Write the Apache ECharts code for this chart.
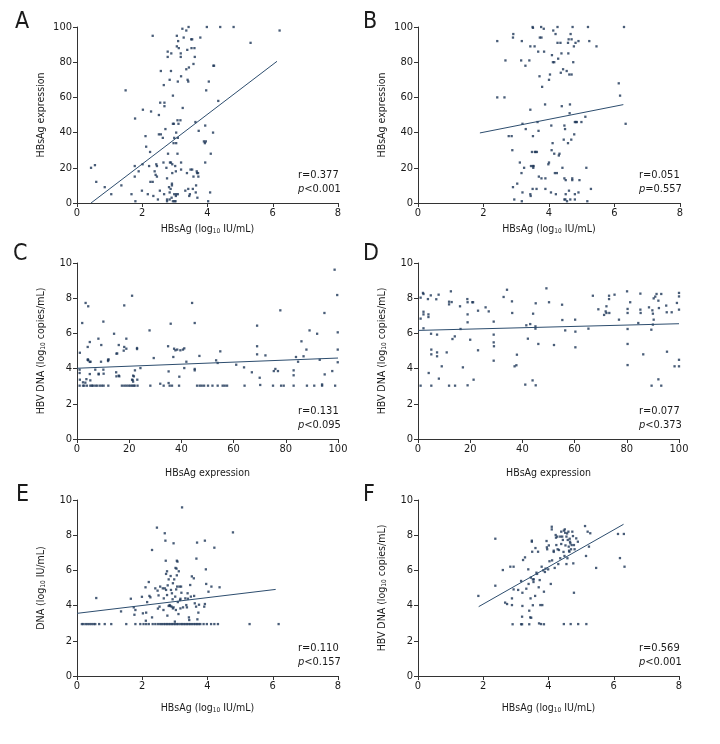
<!DOCTYPE html>
<html><head><meta charset="utf-8">
<script src="https://cdn.jsdelivr.net/npm/echarts@6/dist/echarts.min.js"></script>
<style>html,body{margin:0;padding:0;background:#fff}#c{width:720px;height:744px}</style>
</head><body><div id="c"></div>
<script>
// ---------- data ----------
const panelLabels = ['A', 'B', 'C', 'D', 'E', 'F'];
const statR = ['r=0.377', 'r=0.051', 'r=0.131', 'r=0.077', 'r=0.110', 'r=0.569'];
const statP = ['<0.001', '=0.557', '<0.095', '<0.373', '<0.157', '<0.001'];

// A: HBsAg (log10 IU/mL) vs HBsAg expression
const ptsA = [[0.43,20],[0.55,21.5],[0.59,12],[0.85,9],[1.05,5],[1.36,10],[1.49,64],[1.67,5],[1.77,15],[1.77,21],[1.78,48],[1.79,1],[1.89,18],[1.99,7],[2.01,22],[2.02,53],[2.1,38],[2.12,32],[2.17,5],[2.21,21],[2.24,29],[2.25,12],[2.27,52],[2.32,95],[2.32,12],[2.34,4],[2.38,18],[2.41,16],[2.43,22],[2.45,21],[2.45,15],[2.48,2],[2.51,50],[2.51,39],[2.54,7],[2.55,57],[2.57,75],[2.57,39],[2.63,37],[2.65,23],[2.66,67],[2.67,5],[2.68,57],[2.68,55],[2.71,42],[2.74,20],[2.76,14],[2.76,2],[2.76,1],[2.78,86],[2.78,83],[2.79,28],[2.82,9],[2.84,70],[2.84,6],[2.84,2],[2.85,23],[2.87,8],[2.88,23],[2.88,75],[2.89,85],[2.9,3],[2.91,11],[2.91,10],[2.92,17],[2.92,22],[2.94,61],[2.94,45],[2.94,1],[2.96,34],[2.97,45],[2.98,37],[2.98,5],[2.99,1],[3.01,21],[3.02,1],[3.03,18],[3.03,4],[3.04,34],[3.04,40],[3.04,5],[3.06,89],[3.06,95],[3.08,28],[3.08,47],[3.09,37],[3.09,5],[3.09,69],[3.1,92],[3.11,45],[3.12,88],[3.17,47],[3.18,83],[3.18,85],[3.19,72],[3.19,23],[3.19,19],[3.23,99],[3.24,54],[3.27,94],[3.32,7],[3.35,98],[3.35,76],[3.37,17],[3.38,87],[3.39,70],[3.41,69],[3.41,8],[3.42,100],[3.43,77],[3.44,4],[3.46,5],[3.48,19],[3.5,93],[3.51,88],[3.53,19],[3.53,93],[3.55,8],[3.57,79],[3.57,15],[3.6,88],[3.61,83],[3.63,46],[3.64,6],[3.65,10],[3.67,18],[3.68,17],[3.71,17],[3.72,15],[3.69,3],[3.73,41],[3.78,94],[3.89,35],[3.92,34],[3.95,35],[3.93,44],[3.93,23],[3.96,64],[3.98,100],[4.02,1],[4.04,69],[4.08,6],[4.1,28],[4.17,40],[4.18,78],[4.2,78],[4.33,58],[4.39,100],[4.8,100],[5.32,91],[6.21,98]];
const fitA = [[0.43,0],[6.13,80.5]];

// B
const ptsB = [[2.42,92],[2.42,60],[2.64,60],[2.67,81],[2.77,38],[2.86,38],[2.88,30],[2.9,9],[2.9,94],[2.91,96],[2.94,2],[3.03,11],[3.11,23],[3.15,81],[3.16,17],[3.17,92],[3.17,1],[3.19,6],[3.19,45],[3.24,20],[3.28,78],[3.29,42],[3.4,81],[3.43,5],[3.43,89],[3.44,4],[3.45,21],[3.43,53],[3.48,29],[3.5,8],[3.51,21],[3.51,38],[3.52,20],[3.53,21],[3.56,89],[3.57,29],[3.5,100],[3.51,99.5],[3.59,29],[3.63,29],[3.62,8],[3.65,46],[3.67,86],[3.68,41],[3.69,15],[3.71,72],[3.72,94],[3.76,100],[3.77,94],[3.77,14],[3.79,66],[3.84,99],[3.85,86],[3.88,56],[3.89,14],[3.89,8],[3.98,22],[4.0,23],[4.0,70],[4.03,73],[4.06,6],[4.07,44],[4.08,30],[4.09,84],[4.11,34],[4.12,80],[4.13,98],[4.16,80],[4.16,28],[4.18,17],[4.2,96],[4.21,5],[4.24,17],[4.26,100],[4.26,91],[4.28,82],[4.3,27],[4.32,28],[4.35,91],[4.36,74],[4.38,85],[4.39,55],[4.41,20],[4.43,76],[4.45,36],[4.47,2],[4.47,14],[4.47,44],[4.49,42],[4.5,2],[4.51,13],[4.51,5],[4.54,75],[4.55,1],[4.58,34],[4.58,91],[4.59,85],[4.6,93],[4.61,7],[4.62,73],[4.63,51],[4.64,56],[4.65,2],[4.66,96],[4.68,36],[4.69,93],[4.69,73],[4.71,14],[4.71,13],[4.72,100],[4.74,80],[4.76,89],[4.77,39],[4.79,5],[4.79,2],[4.79,46],[4.81,91],[4.82,46],[4.85,46],[4.9,6],[4.9,92],[4.93,13],[4.99,46],[5.11,49],[5.14,20],[5.17,1],[5.19,100],[5.23,92],[5.28,8],[5.45,89],[6.13,68],[6.17,61],[6.29,100],[6.34,45]];
const fitB = [[1.89,39.8],[6.27,55.9]];

// C: HBsAg expression vs HBV DNA
const ptsC = [[1.1,4.9],[1,3.94],[1,3.75],[1.1,3.37],[1,3.03],[2,6.59],[2.3,3.22],[2.3,3.03],[2.8,3.03],[3.3,7.73],[3.2,3.2],[3.6,3.4],[3.8,3.03],[4.1,5.23],[4.3,7.54],[4.1,4.5],[4.3,4.47],[4.2,4.52],[4.9,5.51],[4.9,4.38],[4.9,3.69],[5.1,3.33],[5.1,3.03],[5.2,4.39],[5.7,3.03],[6.1,3.03],[7,3.94],[7,3.03],[7.7,3.03],[8.2,5.7],[8.3,3.67],[8.3,3.71],[8.7,3.03],[9.2,4.39],[9.3,5.34],[9.5,3.03],[10.1,6.67],[10.1,3.94],[10.2,3.71],[10.2,3.03],[11.9,4.5],[11.9,4.43],[12.1,4.52],[12,3.03],[14.2,5.98],[15,3.79],[15.1,4.85],[15.4,4.86],[15.1,3.56],[16,3.6],[16.2,3.56],[16,5.34],[17.2,3.03],[17.9,5.02],[18.1,7.59],[18.1,5.23],[18.1,3.03],[18.9,5.7],[18.9,5.13],[18.9,3.03],[19.7,3.03],[20.4,3.03],[21.1,8.14],[21.1,3.37],[21.3,3.35],[21.1,3.03],[21.5,3.6],[21.8,3.56],[21.5,3.26],[21.7,3.03],[22.1,3.03],[22.2,3.9],[23,5.17],[23,5.11],[23.1,3.37],[23.2,3.03],[24.3,4.03],[27.8,6.17],[28.1,3.03],[29.4,4.6],[31.9,3.14],[33.2,3.03],[34.9,5.27],[35.1,3.84],[35.1,3.18],[35.5,3.03],[35.9,6.55],[36.4,3.03],[36.9,4.66],[37.2,5.13],[37.7,5.04],[38.4,5.08],[39.1,3.03],[39.2,3.54],[39.6,5.04],[40.6,5.08],[41.1,5.15],[41.1,4.03],[41.9,4.39],[44.1,7.73],[45.1,6.59],[45.1,3.98],[45.1,3.9],[46,3.03],[46.9,4.72],[47,3.03],[47.8,3.03],[48.7,3.03],[50.2,3.03],[51.9,3.03],[53.3,4.47],[53.9,4.32],[53.9,3.03],[54.9,4.98],[55.8,3.03],[56.6,3.03],[57.5,3.03],[61,4.22],[64,4.07],[64.2,3.03],[67,3.79],[69,6.44],[69,5.27],[69,4.81],[70,3.48],[70.2,3.07],[72.2,4.75],[75.1,3.03],[75.4,3.86],[76,3.98],[77,3.86],[77.9,7.31],[78.2,3.03],[79.2,3.03],[83,3.03],[83,3.9],[83,3.62],[83.9,4.66],[84.7,4.39],[86,5.55],[86.8,4.7],[87.9,5.08],[88.1,3.03],[89.1,6.17],[90.9,3.03],[92,5.98],[93,4.5],[93.9,3.03],[93.9,3.1],[94.8,7.16],[94.9,3.67],[97.8,3.86],[98.9,3.03],[98.7,9.62],[99.7,8.18],[99.9,6.06],[99.9,5.08],[99.9,4.36]];
const fitC = [[0,4.02],[100,4.6]];

// D
const ptsD = [[1,8.03],[1,6.84],[1,3.03],[1.9,8.3],[2.1,8.24],[2.1,7.23],[2.1,7.08],[2.1,6.29],[3.8,7.95],[4,7.08],[4,6.93],[4.1,3.75],[4.9,8.16],[5,5.98],[5.1,5.08],[5.1,4.81],[5.1,3.03],[7,7.94],[7.3,5.93],[7.3,4.92],[7.3,4.7],[7.9,8.2],[8,3.43],[9.1,4.13],[11,4.92],[11.9,7.65],[11.9,7.8],[11.9,3.03],[12.6,8.39],[12.9,7.78],[13.2,5.68],[14.1,5.83],[14.2,3.03],[16.1,7.54],[16.3,6.25],[17.2,4.07],[18.9,7.95],[19,7.77],[19,7.08],[19,6.63],[19,3.05],[20,5.64],[20.8,7.77],[21.1,7.77],[21.3,3.37],[23,7.29],[23,5.04],[25.9,7.48],[27.1,7.25],[29,6.67],[29,5.93],[29,5.49],[29.1,5.27],[29,4.45],[32.8,8.07],[34.1,8.48],[36,7.82],[36.1,7.16],[37,4.13],[37.7,4.19],[37.9,4.79],[41.1,3.09],[41.5,6.46],[42.1,5.7],[43,6.53],[43.9,3.33],[44.1,7.12],[45,6.4],[45,6.27],[45.1,7.71],[45.1,3.05],[46.1,5.4],[49.2,8.56],[50.2,7.77],[52.1,5.34],[55.2,7.63],[55.3,6.76],[56.4,6.17],[60.2,6.78],[60.3,6.1],[60.3,5.21],[65.3,6.27],[67,8.14],[69.1,7.37],[71.3,7.05],[71.9,7.25],[72.2,7.54],[72.2,7.16],[73.2,7.95],[73.2,8.14],[73.3,7.16],[75.3,8.2],[77,6.78],[80.1,8.39],[80.3,7.39],[80.3,7.16],[80.3,6.25],[80.3,5.4],[80.3,4.2],[81.3,7.77],[84.4,6.59],[85.2,8.26],[85.2,7.35],[85.3,7.16],[86.3,4.81],[88.5,7.48],[89.4,6.21],[89.5,3.03],[89.8,7.31],[90,7.12],[90,6.5],[90.3,6.78],[90.3,7.99],[90.9,8.09],[91.4,8.24],[92.1,7.86],[92.1,3.39],[92.3,7.44],[93.2,3.03],[93.2,8.24],[95.1,7.58],[95.3,7.2],[95.4,4.96],[97.2,7.2],[98.3,4.13],[99.2,7.73],[100,8.3],[100,8.1],[100,7.35],[100,4.5],[100,4.13]];
const fitD = [[0,6.17],[100,6.55]];

// E: HBsAg (log10 IU/mL) vs DNA (log10 IU/mL)
const ptsE = [[0.15,2.95],[0.2,2.95],[0.27,2.95],[0.33,2.95],[0.39,2.95],[0.45,2.95],[0.51,2.95],[0.56,2.95],[0.68,2.95],[0.85,2.95],[1.05,2.95],[1.51,2.95],[1.79,2.95],[1.94,2.95],[2.04,2.95],[2.12,2.95],[2.2,2.95],[2.32,2.95],[2.4,2.95],[2.48,2.95],[2.55,2.95],[2.6,2.95],[2.66,2.95],[2.71,2.95],[2.76,2.95],[2.81,2.95],[2.86,2.95],[2.91,2.95],[2.96,2.95],[3.01,2.95],[3.06,2.95],[3.11,2.95],[3.17,2.95],[3.22,2.95],[3.27,2.95],[3.32,2.95],[3.37,2.95],[3.42,2.95],[3.47,2.95],[3.52,2.95],[3.58,2.95],[3.63,2.95],[3.68,2.95],[3.73,2.95],[3.78,2.95],[3.88,2.95],[3.98,2.95],[4.11,2.95],[4.21,2.95],[4.32,2.95],[5.29,2.95],[6.18,2.95],[0.59,4.43],[1.35,3.67],[1.65,4.39],[1.74,3.9],[1.76,3.48],[1.79,3.75],[1.99,4.5],[2.02,3.56],[2.1,5.04],[2.12,3.6],[2.11,3.14],[2.15,4.2],[2.2,5.34],[2.22,4.55],[2.25,4.47],[2.3,7.16],[2.3,3.33],[2.4,4.98],[2.45,8.43],[2.47,4.85],[2.48,3.83],[2.5,4.58],[2.53,3.94],[2.55,5.08],[2.63,4.98],[2.65,3.75],[2.66,4.41],[2.69,4.98],[2.69,8.11],[2.71,7.69],[2.72,6.55],[2.73,5.8],[2.73,4.89],[2.76,4.6],[2.76,5.95],[2.77,3.43],[2.78,5.15],[2.81,5.49],[2.81,3.98],[2.84,4.03],[2.86,3.98],[2.87,5.68],[2.88,4.89],[2.9,3.94],[2.91,4.7],[2.93,4.36],[2.94,5.27],[2.94,3.84],[2.96,7.54],[2.96,3.9],[2.98,5.49],[3,3.09],[3.01,4.51],[3.02,6.14],[3.03,3.75],[3.04,4.92],[3.05,6.1],[3.06,5.72],[3.06,6.55],[3.07,5.08],[3.08,6.5],[3.09,4.2],[3.11,3.52],[3.12,5.95],[3.14,5.08],[3.16,4.32],[3.17,3.84],[3.19,5.08],[3.2,4.73],[3.17,4.39],[3.22,9.58],[3.25,3.9],[3.32,4.41],[3.35,4.03],[3.37,3.9],[3.39,4.7],[3.4,4.39],[3.43,3.33],[3.44,3.18],[3.47,5.17],[3.49,4.51],[3.52,5.66],[3.58,5.55],[3.59,4.55],[3.61,4.13],[3.65,3.94],[3.66,6.67],[3.68,7.58],[3.69,3.22],[3.72,3.6],[3.74,4.05],[3.9,3.94],[3.92,4.09],[3.92,7.69],[3.95,6.06],[3.96,5.23],[4.03,4.79],[4.12,5.08],[4.21,7.29],[4.37,5.04],[4.78,8.16]];
const fitE = [[0,3.56],[6.09,4.92]];

// F: HBsAg (log10 IU/mL) vs HBV DNA
const ptsF = [[1.85,4.55],[2.37,5.13],[2.37,7.8],[2.6,6.02],[2.67,4.17],[2.73,4.09],[2.83,6.21],[2.88,4.03],[2.88,4.41],[2.9,2.94],[2.93,6.21],[2.93,4.92],[3.07,4.89],[3.16,2.94],[3.19,2.94],[3.19,3.37],[3.2,3.98],[3.16,5.4],[3.2,4.73],[3.22,6.59],[3.28,6.74],[3.32,4.96],[3.38,6.06],[3.39,5.23],[3.41,3.71],[3.41,2.94],[3.44,3.33],[3.45,4.41],[3.46,5.59],[3.47,3.31],[3.49,7.69],[3.49,7.63],[3.5,7.06],[3.52,4.02],[3.52,5.49],[3.54,5.34],[3.55,5.49],[3.59,4.55],[3.6,7.27],[3.63,5.87],[3.65,5.8],[3.68,7.06],[3.7,5.04],[3.71,2.99],[3.73,5.45],[3.75,4.03],[3.77,2.95],[3.79,6.21],[3.81,4.03],[3.84,6.0],[3.86,4.79],[3.86,2.94],[3.89,5.91],[3.91,6.1],[3.94,7.67],[3.95,7.31],[3.96,7.2],[3.99,6.06],[4.01,7.42],[4.03,6.52],[4.07,5.23],[4.1,8.48],[4.1,8.33],[4.11,6.57],[4.16,7.12],[4.16,7.05],[4.19,6.14],[4.22,8.01],[4.23,7.86],[4.24,7.44],[4.27,7.92],[4.28,7.2],[4.3,6.36],[4.32,7.16],[4.36,7.92],[4.36,6.69],[4.39,7.5],[4.39,8.2],[4.42,7.92],[4.44,7.73],[4.46,7.05],[4.47,8.26],[4.47,2.95],[4.49,6.82],[4.5,8.33],[4.51,8.14],[4.52,7.42],[4.55,6.36],[4.55,7.92],[4.57,8.1],[4.58,6.69],[4.59,7.73],[4.61,8.2],[4.62,7.35],[4.63,7.12],[4.64,7.06],[4.65,7.8],[4.66,7.63],[4.67,7.54],[4.68,2.95],[4.69,7.2],[4.71,7.44],[4.73,8.2],[4.75,7.95],[4.76,6.4],[4.78,4.73],[4.78,7.44],[4.8,7.2],[4.85,7.82],[4.9,7.63],[4.91,2.95],[5.12,8.52],[5.15,6.82],[5.16,2.95],[5.2,8.2],[5.24,7.35],[5.28,8.11],[5.46,6.14],[6.13,8.07],[6.19,6.7],[6.31,8.07],[6.33,6.21]];
const fitF = [[1.86,3.94],[6.3,8.62]];

// axis definitions
const xMax = [8, 8, 100, 100, 8, 8];
const xStep = [2, 2, 20, 20, 2, 2];
const yMax = [100, 100, 10, 10, 10, 10];
const yStep = [20, 20, 2, 2, 2, 2];
const xNames = ['log', 'log', 'expr', 'expr', 'log', 'log'];
const yNames = ['expr', 'expr', 'dnaCopies', 'dnaCopies', 'dnaIU', 'dnaCopies'];

// ---------- layout / styles ----------
const FONT = "'Liberation Sans Narrow','DejaVu Sans Condensed','Liberation Sans',sans-serif";
const INK = '#1a1a1a';
const grids = [
  {left: 77, top: 27, width: 261, height: 176},
  {left: 418, top: 27, width: 262, height: 176},
  {left: 77, top: 263, width: 261, height: 176},
  {left: 418, top: 263, width: 261, height: 176},
  {left: 77, top: 500, width: 261, height: 176},
  {left: 418, top: 500, width: 261, height: 176}
];
const xGap = [20, 20, 29, 29, 26, 26];
const yGap = [30, 30, 30, 30, 30, 30];
const letterPos = [[15, 11], [363, 11], [13, 243], [363, 243], [16, 484], [363, 484]];

const nameText = {
  log: '{n|HBsAg (log}{s|10}{n| IU/mL)}',
  expr: '{n|HBsAg expression}',
  dnaCopies: '{n|HBV DNA (log}{s|10}{n| copies/mL)}',
  dnaIU: '{n|DNA (log}{s|10}{n| IU/mL)}'
};
const nameRich = {
  n: {fontSize: 10.5, fontFamily: FONT, color: INK},
  s: {fontSize: 6.5, fontFamily: FONT, color: INK, padding: [5, 0, 0, 0]}
};

const pts = [ptsA, ptsB, ptsC, ptsD, ptsE, ptsF];
const fits = [fitA, fitB, fitC, fitD, fitE, fitF];

const axisCommon = {
  type: 'value',
  axisLine: {show: true, onZero: false, lineStyle: {color: '#333', width: 1}},
  axisTick: {show: true, inside: false, length: 4, lineStyle: {color: '#333', width: 1}},
  splitLine: {show: false},
  nameLocation: 'middle'
};

const option = {
  backgroundColor: '#fff',
  animation: false,
  grid: grids.map(g => Object.assign({containLabel: false}, g)),
  xAxis: grids.map((g, i) => Object.assign({}, axisCommon, {
    gridIndex: i, min: 0, max: xMax[i], interval: xStep[i],
    name: nameText[xNames[i]], nameGap: xGap[i],
    nameTextStyle: {rich: nameRich},
    axisLabel: {fontSize: 11, fontFamily: FONT, color: INK, margin: 5}
  })),
  yAxis: grids.map((g, i) => Object.assign({}, axisCommon, {
    gridIndex: i, min: 0, max: yMax[i], interval: yStep[i],
    name: nameText[yNames[i]], nameGap: yGap[i],
    nameTextStyle: {rich: nameRich},
    axisLabel: {fontSize: 11, fontFamily: FONT, color: INK, margin: 5}
  })),
  series: [].concat(
    pts.map((d, i) => ({
      type: 'scatter', xAxisIndex: i, yAxisIndex: i, data: d,
      symbol: 'rect', symbolSize: 2.3, silent: true,
      itemStyle: {color: '#1b3456'}
    })),
    fits.map((d, i) => ({
      type: 'line', xAxisIndex: i, yAxisIndex: i, data: d,
      showSymbol: false, symbol: 'none', silent: true,
      lineStyle: {color: '#2d4d6e', width: 1}
    }))
  ),
  graphic: [].concat(
    panelLabels.map((t, i) => ({
      type: 'text', left: letterPos[i][0], top: letterPos[i][1],
      style: {text: t, fontSize: 23, fontFamily: FONT, fill: INK}
    })),
    grids.map((g, i) => ({
      type: 'text', left: g.left + 221, top: g.top + 141,
      style: {
        text: statR[i] + '\n{i|p}' + statP[i],
        fontSize: 11, fontFamily: FONT, fill: INK, lineHeight: 14,
        rich: {i: {fontSize: 11, fontFamily: FONT, fontStyle: 'italic', fill: INK, lineHeight: 14}}
      }
    }))
  )
};

const chart = echarts.init(document.getElementById('c'), null, {renderer: 'canvas'});
chart.setOption(option);
</script>
</body></html>
